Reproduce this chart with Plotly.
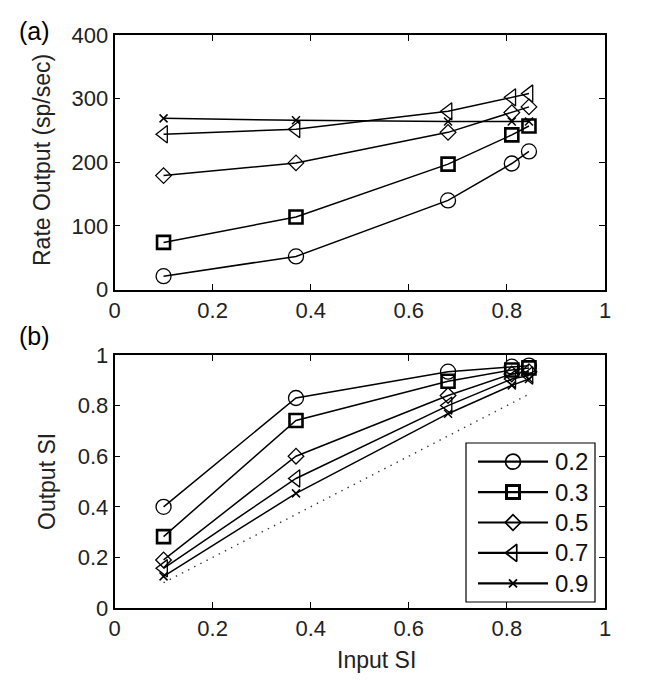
import plotly.graph_objects as go

# ---------------- data ----------------
input_si = [0.1, 0.37, 0.68, 0.81, 0.845]
series_names = ["0.2", "0.3", "0.5", "0.7", "0.9"]

rate_02 = [21, 52, 140, 198, 217]
rate_03 = [74, 114, 197, 243, 257]
rate_05 = [179, 199, 247, 278, 287]
rate_07 = [244, 252, 280, 302, 308]
rate_09 = [269, 266, 264, 264, 264]

si_02 = [0.40, 0.83, 0.934, 0.954, 0.958]
si_03 = [0.282, 0.741, 0.896, 0.941, 0.949]
si_05 = [0.19, 0.60, 0.84, 0.925, 0.934]
si_07 = [0.157, 0.512, 0.80, 0.905, 0.919]
si_09 = [0.125, 0.453, 0.768, 0.88, 0.905]

x_ticks = [0, 0.2, 0.4, 0.6, 0.8, 1]
x_ticktext = ["0", "0.2", "0.4", "0.6", "0.8", "1"]
rate_ticks = [0, 100, 200, 300, 400]
si_ticks = [0, 0.2, 0.4, 0.6, 0.8, 1]
si_ticktext = ["0", "0.2", "0.4", "0.6", "0.8", "1"]

rates = [rate_02, rate_03, rate_05, rate_07, rate_09]
sis = [si_02, si_03, si_05, si_07, si_09]

# ---------------- geometry (reference pixel frame; page body has 8px margin) ----------------
OFF = 8
W, H = 668, 681
FW, FH = W - 2 * OFF, H - 2 * OFF


def px(rx):
    return (rx - OFF) / FW


def py(ry):
    return 1 - (ry - OFF) / FH


FONT = "Liberation Sans, Arial, sans-serif"
symbols = ["circle-open", "square-open", "diamond-open", "triangle-left-open", "x-thin-open"]
sizes = [15, 13, 12, 15, 8]
mwidths = [1.3, 2.6, 1.3, 1.3, 1.5]

fig = go.Figure()

for i in range(5):
    for xa, ya, vals in (("x", "y", rates[i]), ("x2", "y2", sis[i])):
        fig.add_trace(go.Scatter(
            x=input_si, y=vals, xaxis=xa, yaxis=ya, mode="lines+markers",
            line=dict(color="black", width=1.5),
            marker=dict(symbol=symbols[i], size=sizes[i], color="black",
                        line=dict(color="black", width=mwidths[i])),
            showlegend=False, cliponaxis=False))

# identity reference line (dotted) in panel b
fig.add_trace(go.Scatter(
    x=[input_si[0], input_si[-1]], y=[input_si[0], input_si[-1]],
    xaxis="x2", yaxis="y2", mode="lines",
    line=dict(color="#333", width=1.4, dash="1.4px,5.5px"), showlegend=False))

# ---------------- custom legend (pixel overlay axes) ----------------
LX0, LX1, LY0, LY1 = 466, 595, 443, 602
ROW0, ROWH = 461.7, 30.4
LINE_X0, LINE_X1, TEXT_X = 478, 548, 553
fig.add_shape(type="rect", xref="x3", yref="y3", x0=LX0, x1=LX1, y0=LY0, y1=LY1,
              line=dict(color="black", width=1.2), fillcolor="white", layer="below")
for i, name in enumerate(series_names):
    yc = ROW0 + i * ROWH
    fig.add_shape(type="line", xref="x3", yref="y3", x0=LINE_X0, x1=LINE_X1, y0=yc, y1=yc,
                  line=dict(color="black", width=2.2), layer="below")
    fig.add_trace(go.Scatter(
        x=[(LINE_X0 + LINE_X1) / 2], y=[yc], xaxis="x3", yaxis="y3", mode="markers",
        marker=dict(symbol=symbols[i], size=sizes[i], color="black",
                    line=dict(color="black", width=mwidths[i] + 0.4)),
        showlegend=False, hoverinfo="skip"))
    fig.add_annotation(x=TEXT_X, y=yc, xref="x3", yref="y3", text=name, showarrow=False,
                       xanchor="left", yanchor="middle", font=dict(size=24, family=FONT, color="#111"))

# ---------------- layout ----------------
XD = [px(114.5), px(605)]
top_dom = [py(289.5), py(35)]
bot_dom = [py(608), py(355)]

axis_common = dict(showline=True, linecolor="black", linewidth=1.6, mirror="ticks",
                   ticks="inside", ticklen=6, tickwidth=1.2, tickcolor="black",
                   showgrid=False, zeroline=False, automargin=False,
                   tickfont=dict(family=FONT, size=22, color="#222"))

fig.update_layout(
    width=FW, height=FH, margin=dict(l=0, r=0, t=0, b=0, pad=0, autoexpand=False),
    paper_bgcolor="white", plot_bgcolor="rgba(0,0,0,0)", showlegend=False,
    xaxis=dict(domain=XD, anchor="y", range=[0, 1], tickvals=x_ticks, ticktext=x_ticktext,
               **axis_common),
    yaxis=dict(domain=top_dom, anchor="x", range=[0, 400], tickvals=rate_ticks, **axis_common),
    xaxis2=dict(domain=XD, anchor="y2", range=[0, 1], tickvals=x_ticks, ticktext=x_ticktext,
                **axis_common),
    yaxis2=dict(domain=bot_dom, anchor="x2", range=[0, 1], tickvals=si_ticks, ticktext=si_ticktext,
                **axis_common),
    xaxis3=dict(domain=[0, 1], range=[OFF, OFF + FW], visible=False, anchor="y3",
                fixedrange=True, automargin=False),
    yaxis3=dict(domain=[0, 1], range=[OFF + FH, OFF], visible=False, anchor="x3",
                fixedrange=True, automargin=False),
)

ann_font = dict(family=FONT, size=23, color="#222")
fig.add_annotation(x=px(42), y=py(160), xref="paper", yref="paper", text="Rate Output (sp/sec)",
                   textangle=-90, showarrow=False, font=ann_font, xanchor="center", yanchor="middle")
fig.add_annotation(x=px(47), y=py(482), xref="paper", yref="paper", text="Output SI",
                   textangle=-90, showarrow=False, font=ann_font, xanchor="center", yanchor="middle")
fig.add_annotation(x=px(376), y=py(660), xref="paper", yref="paper", text="Input SI",
                   showarrow=False, font=ann_font, xanchor="center", yanchor="middle")
fig.add_annotation(x=px(34), y=py(31), xref="paper", yref="paper", text="(a)",
                   showarrow=False, font=dict(family=FONT, size=25, color="black"),
                   xanchor="center", yanchor="middle")
fig.add_annotation(x=px(34), y=py(336), xref="paper", yref="paper", text="(b)",
                   showarrow=False, font=dict(family=FONT, size=25, color="black"),
                   xanchor="center", yanchor="middle")

fig.write_html("out.html")
